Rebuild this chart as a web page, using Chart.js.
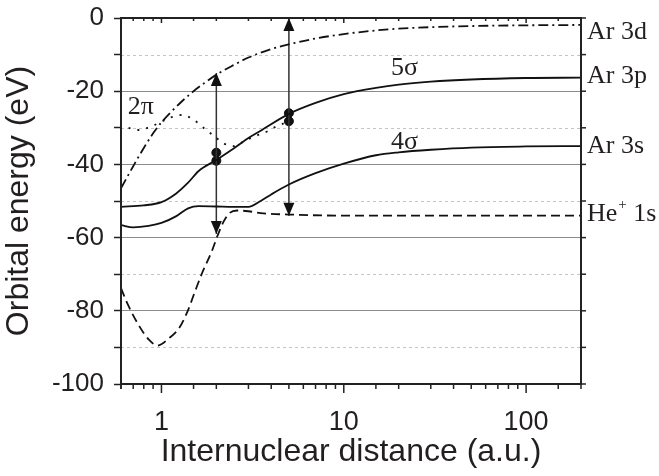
<!DOCTYPE html>
<html>
<head>
<meta charset="utf-8">
<script src="https://cdn.jsdelivr.net/npm/chart.js@4.4.1/dist/chart.umd.min.js"></script>
<style>
  html, body { margin: 0; padding: 0; background: #fff; }
  #wrap { width: 659px; height: 476px; }
</style>
</head>
<body>
<div id="wrap"><canvas id="orbitalChart"></canvas></div>
<script>
// Ar 3d (dash-dot)
const ar3dX = [0.6, 0.7, 0.8, 0.9, 1, 1.25, 1.5, 1.75, 2, 2.5, 3, 4, 5, 7, 10, 15, 20, 30, 50, 100, 200];
const ar3dY = [-46.5, -40.5, -35.5, -31.5, -28.5, -23.5, -20, -17.5, -15.5, -12.8, -10.8, -8.5, -7.2, -5.6, -4.4, -3.4, -2.9, -2.5, -2.2, -2, -1.9];

// 5 sigma (solid, upper)
const sigma5X = [0.6, 0.8, 1, 1.2, 1.4, 1.6, 2, 2.5, 3, 3.5, 5, 7, 10, 15, 20, 30, 50, 100, 200];
const sigma5Y = [-51.6, -51.2, -50.3, -48, -45, -41.8, -38.8, -35.6, -32.8, -30.8, -26.2, -23.2, -20.8, -19.1, -18.2, -17.4, -16.8, -16.4, -16.3];

// 4 sigma (solid, lower)
const sigma4X = [0.6, 0.7, 0.85, 1, 1.2, 1.4, 1.6, 2, 2.5, 3, 3.5, 4, 5, 7, 10, 15, 20, 30, 50, 100, 200];
const sigma4Y = [-56.6, -57.2, -56.8, -56, -54.2, -52, -51.4, -51.5, -51.6, -51.6, -50, -48.2, -45.5, -42.4, -39.8, -37.5, -36.7, -36, -35.4, -35.1, -35];

// 2 pi (dotted)
const pi2X = [0.66, 0.75, 0.9, 1, 1.15, 1.3, 1.5, 1.7, 1.95, 2.2, 2.5, 2.85, 3.3, 3.8, 4.2, 5];
const pi2Y = [-30, -30.6, -29.4, -28.3, -27, -26.5, -27.8, -30, -32.3, -34.3, -35, -33.6, -32.2, -31, -29.8, -28.2];

// He+ 1s (dashed)
const he1sX = [0.6, 0.65, 0.76, 0.85, 0.95, 1.1, 1.25, 1.4, 1.52, 1.68, 1.88, 2.03, 2.2, 2.36, 2.6, 3, 3.5, 5, 10, 20, 50, 100, 200];
const he1sY = [-73.8, -78, -84.4, -87.8, -89.5, -87.5, -84.7, -79.8, -75, -69.4, -64, -59.5, -55.5, -53.3, -52.6, -52.8, -53.3, -53.7, -54, -54, -54, -54, -54];

// vertical double arrows: x, top tip, bottom tip
const arrowX = [2, 5];
const arrowTop = [-15, 0];
const arrowBottom = [-59, -54];

// filled dots at the crossings
const dotX = [2, 2, 5, 5];
const dotY = [-36.8, -39, -26, -28.2];

// y ticks
const yMajorTicks = [0, -20, -40, -60, -80, -100];
const yMinorGrid = [-10, -30, -50, -70, -90];
const xLabelTicks = [1, 10, 100];

// right side level labels
const levelLabels = ['Ar 3d', 'Ar 3p', 'Ar 3s', 'He+ 1s'];
const levelValues = [-4, -16, -35, -53.5];

// curve labels
const curveLabels = ['5σ', '4σ', '2π'];
const curveLabelX = [21.5, 21.5, 0.77];
const curveLabelY = [-13.6, -33.8, -24.4];

const toPoints = (xs, ys) => xs.map((x, i) => ({ x: x, y: ys[i] }));

function curve(label, xs, ys, dash) {
    return {
        label: label,
        data: toPoints(xs, ys),
        borderColor: '#111',
        borderWidth: 1.8,
        borderDash: dash,
        pointRadius: 0,
        fill: false,
        cubicInterpolationMode: 'monotone'
    };
}

const datasets = [
    curve('Ar 3d', ar3dX, ar3dY, [10, 4, 2, 4]),
    curve('5σ', sigma5X, sigma5Y, []),
    curve('4σ', sigma4X, sigma4Y, []),
    curve('2π', pi2X, pi2Y, [2, 7]),
    curve('He+ 1s', he1sX, he1sY, [9, 5])
];

arrowX.forEach((x, i) => {
    datasets.push({
        label: 'arrow' + i,
        isArrow: true,
        data: [{ x: x, y: arrowTop[i] }, { x: x, y: arrowBottom[i] }],
        borderColor: '#333',
        borderWidth: 1.5,
        pointRadius: 0,
        tension: 0
    });
});

datasets.push({
    label: 'dots',
    type: 'scatter',
    data: toPoints(dotX, dotY),
    backgroundColor: '#111',
    borderColor: '#111',
    pointRadius: 4.5,
    showLine: false
});

const textColor = '#231f20';

const decorPlugin = {
    id: 'decor',
    beforeDatasetsDraw(chart) {
        const { ctx, chartArea: a, scales: { y } } = chart;
        ctx.save();
        ctx.strokeStyle = '#c4c4c4';
        ctx.lineWidth = 1;
        ctx.setLineDash([3, 3]);
        yMinorGrid.forEach(v => {
            const py = Math.round(y.getPixelForValue(v)) + 0.5;
            ctx.beginPath();
            ctx.moveTo(a.left, py);
            ctx.lineTo(a.right, py);
            ctx.stroke();
        });
        ctx.restore();
    },
    afterDatasetsDraw(chart) {
        const { ctx, chartArea: a, scales: { x, y } } = chart;
        ctx.save();

        // arrow heads
        chart.data.datasets.forEach((ds, i) => {
            if (!ds.isArrow) return;
            const pts = chart.getDatasetMeta(i).data;
            const top = pts[0], bot = pts[1];
            ctx.fillStyle = '#111';
            ctx.beginPath();
            ctx.moveTo(top.x, top.y);
            ctx.lineTo(top.x - 5.5, top.y + 13);
            ctx.lineTo(top.x + 5.5, top.y + 13);
            ctx.closePath();
            ctx.fill();
            ctx.beginPath();
            ctx.moveTo(bot.x, bot.y);
            ctx.lineTo(bot.x - 5.5, bot.y - 13);
            ctx.lineTo(bot.x + 5.5, bot.y - 13);
            ctx.closePath();
            ctx.fill();
        });

        // frame
        ctx.strokeStyle = '#222';
        ctx.lineWidth = 2;
        ctx.strokeRect(a.left, a.top, a.right - a.left, a.bottom - a.top);

        // x ticks (bottom outward, top inward)
        ctx.lineWidth = 1.5;
        x.ticks.forEach(t => {
            const lg = Math.log10(t.value);
            const major = Math.abs(lg - Math.round(lg)) < 1e-6;
            const px = x.getPixelForValue(t.value);
            ctx.beginPath();
            ctx.moveTo(px, a.bottom);
            ctx.lineTo(px, a.bottom + (major ? 9 : 5));
            ctx.moveTo(px, a.top);
            ctx.lineTo(px, a.top + (major ? 5 : 3));
            ctx.stroke();
        });

        // right ticks
        y.ticks.forEach(t => {
            const py = y.getPixelForValue(t.value);
            ctx.beginPath();
            ctx.moveTo(a.right, py);
            ctx.lineTo(a.right + 5, py);
            ctx.stroke();
        });

        // level labels on the right
        ctx.fillStyle = textColor;
        ctx.textBaseline = 'middle';
        ctx.textAlign = 'left';
        levelLabels.forEach((txt, i) => {
            const py = y.getPixelForValue(levelValues[i]);
            let px = a.right + 6;
            ctx.font = '26px "Liberation Serif", "Times New Roman", serif';
            if (txt.indexOf('+') >= 0) {
                const parts = txt.split('+');
                ctx.fillText(parts[0], px, py);
                px += ctx.measureText(parts[0]).width + 1;
                ctx.font = '15px "Liberation Serif", "Times New Roman", serif';
                ctx.fillText('+', px, py - 9);
                px += ctx.measureText('+').width;
                ctx.font = '26px "Liberation Serif", "Times New Roman", serif';
                ctx.fillText(parts[1], px, py);
            } else {
                ctx.fillText(txt, px, py);
            }
        });

        // curve labels
        ctx.textAlign = 'center';
        ctx.font = '26px "Liberation Serif", "Times New Roman", serif';
        curveLabels.forEach((txt, i) => {
            ctx.fillText(txt, x.getPixelForValue(curveLabelX[i]), y.getPixelForValue(curveLabelY[i]));
        });

        ctx.restore();
    }
};

new Chart(document.getElementById('orbitalChart'), {
    type: 'line',
    data: { datasets: datasets },
    plugins: [decorPlugin],
    options: {
        responsive: true,
        maintainAspectRatio: false,
        animation: false,
        layout: { padding: { left: 0, right: 78, top: 18, bottom: 5 } },
        plugins: {
            legend: { display: false },
            tooltip: { enabled: false }
        },
        scales: {
            x: {
                type: 'logarithmic',
                min: 0.6,
                max: 200,
                grid: { display: false },
                border: { display: false },
                ticks: {
                    autoSkip: false,
                    maxRotation: 0,
                    padding: 14,
                    color: textColor,
                    font: { family: 'Liberation Sans, Arial, sans-serif', size: 27 },
                    callback: value => xLabelTicks.includes(value) ? String(value) : ''
                },
                title: {
                    display: true,
                    text: 'Internuclear distance (a.u.)',
                    color: textColor,
                    padding: 0,
                    font: { family: 'Liberation Sans, Arial, sans-serif', size: 32 }
                },
                afterFit: scale => { scale.height = 87; }
            },
            y: {
                type: 'linear',
                min: -100,
                max: 0,
                grid: {
                    drawTicks: true,
                    tickLength: 7,
                    tickColor: '#222',
                    tickWidth: 1.5,
                    color: c => (c.tick && yMajorTicks.includes(c.tick.value)) ? '#8c8c8c' : 'rgba(0,0,0,0)'
                },
                border: { display: false },
                ticks: {
                    stepSize: 10,
                    padding: 10,
                    color: textColor,
                    font: { family: 'Liberation Sans, Arial, sans-serif', size: 26 },
                    callback: value => yMajorTicks.includes(value) ? String(value) : ''
                },
                title: {
                    display: true,
                    text: 'Orbital energy (eV)',
                    color: textColor,
                    padding: 0,
                    font: { family: 'Liberation Sans, Arial, sans-serif', size: 32 }
                },
                afterFit: scale => {
                    scale.width = 121;
                    scale.paddingTop = 0;
                    scale.paddingBottom = 0;
                }
            }
        }
    }
});
</script>
</body>
</html>
